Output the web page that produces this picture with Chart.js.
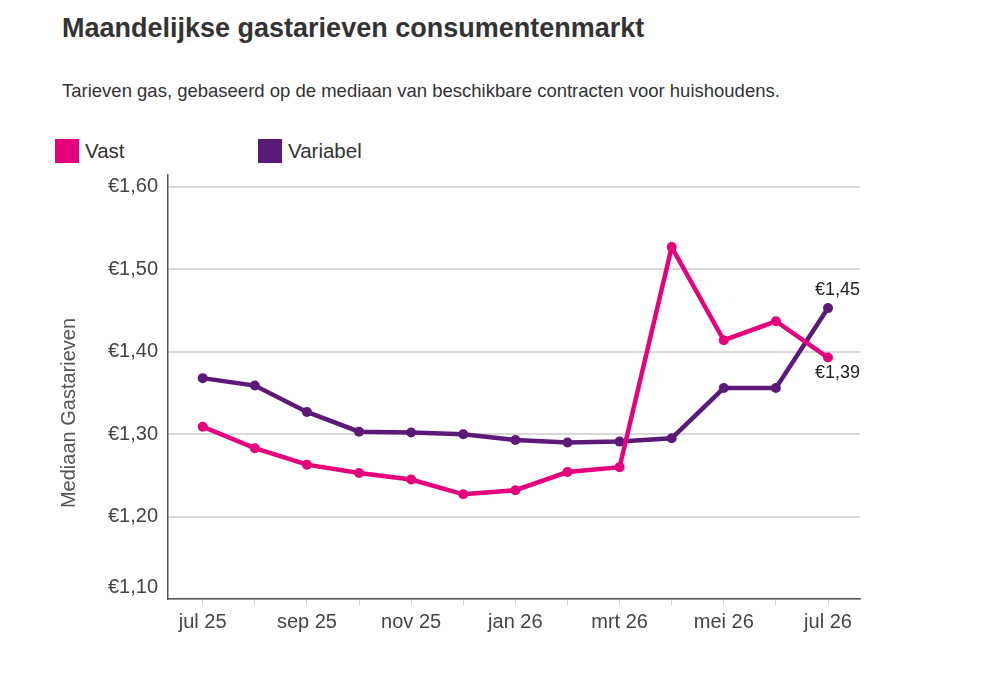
<!DOCTYPE html>
<html lang="nl">
<head>
<meta charset="utf-8">
<script src="https://cdn.jsdelivr.net/npm/chart.js@4.4.1/dist/chart.umd.min.js"></script>
<style>
  body { margin: 0; background: #fff; font-family: "Liberation Sans", Arial, sans-serif; color: #333; }
  .page { position: relative; width: 1000px; height: 693px; overflow: hidden; }
  h1 { position: absolute; left: 62px; top: 13px; margin: 0; font-size: 27px; font-weight: bold; color: #333; }
  .sub { position: absolute; left: 62px; top: 80px; margin: 0; font-size: 18.5px; color: #333; }
  .legend { position: absolute; left: 55px; top: 139px; display: flex; }
  .legend-item { display: flex; align-items: center; width: 203px; font-size: 20.5px; color: #333; }
  .legend-item span.box { display: inline-block; width: 24px; height: 24px; margin-right: 6px; }
  .chart-wrap { position: absolute; left: 0; top: 153px; width: 1000px; height: 540px; }
</style>
</head>
<body>
<div class="page">
  <h1>Maandelijkse gastarieven consumentenmarkt</h1>
  <p class="sub">Tarieven gas, gebaseerd op de mediaan van beschikbare contracten voor huishoudens.</p>
  <div class="legend" id="legend"></div>
  <div class="chart-wrap">
    <canvas id="gasChart" width="1000" height="540"></canvas>
  </div>
</div>
<script>
// maanden jul 25 t/m jul 26
const maanden = ['jul 25', 'aug 25', 'sep 25', 'okt 25', 'nov 25', 'dec 25', 'jan 26',
                 'feb 26', 'mrt 26', 'apr 26', 'mei 26', 'jun 26', 'jul 26'];

const vast = [1.309, 1.283, 1.263, 1.253, 1.245, 1.227, 1.232,
              1.254, 1.260, 1.527, 1.414, 1.437, 1.393];

const variabel = [1.368, 1.359, 1.327, 1.303, 1.302, 1.300, 1.293,
                  1.290, 1.291, 1.295, 1.356, 1.356, 1.453];

const yTicks = [1.10, 1.20, 1.30, 1.40, 1.50, 1.60];

const KLEUR_VAST = '#e5007d';
const KLEUR_VARIABEL = '#5c1a78';
const FONT = '"Liberation Sans", Arial, sans-serif';

const euro = v => '€' + v.toFixed(2).replace('.', ',');
const toPoints = arr => arr.map((v, i) => ({ x: i, y: v }));

// legenda in html
const legendEl = document.getElementById('legend');
[['Vast', KLEUR_VAST], ['Variabel', KLEUR_VARIABEL]].forEach(([naam, kleur]) => {
  const item = document.createElement('div');
  item.className = 'legend-item';
  item.innerHTML = '<span class="box" style="background:' + kleur + '"></span>' + naam;
  legendEl.appendChild(item);
});

// label bij het laatste punt, onderste y-label iets omhoog en de astitel
const extraTekst = {
  id: 'extraTekst',
  afterDraw(chart) {
    const ctx = chart.ctx;
    const yScale = chart.scales.y;
    ctx.save();

    // onderste ticklabel staat in het origineel boven de x-as
    ctx.font = '20px ' + FONT;
    ctx.fillStyle = '#444';
    ctx.textAlign = 'right';
    ctx.textBaseline = 'middle';
    ctx.fillText(euro(yTicks[0]), yScale.right - 10, yScale.getPixelForValue(yTicks[0]) - 12);

    // astitel
    ctx.save();
    ctx.translate(69, chart.chartArea.top + 238);
    ctx.rotate(-Math.PI / 2);
    ctx.textAlign = 'center';
    ctx.font = '20px ' + FONT;
    ctx.fillStyle = '#555';
    ctx.fillText('Mediaan Gastarieven', 0, 0);
    ctx.restore();

    // eindwaarden
    ctx.font = '18px ' + FONT;
    ctx.fillStyle = '#222';
    ctx.textAlign = 'right';
    chart.data.datasets.forEach((ds, i) => {
      const meta = chart.getDatasetMeta(i);
      const last = meta.data[meta.data.length - 1];
      const v = ds.data[ds.data.length - 1].y;
      if (ds.labelBoven) {
        ctx.textBaseline = 'bottom';
        ctx.fillText(euro(v), chart.chartArea.right, last.y - 9);
      } else {
        ctx.textBaseline = 'top';
        ctx.fillText(euro(v), chart.chartArea.right, last.y + 6);
      }
    });
    ctx.restore();
  }
};

const config = {
  type: 'line',
  data: {
    datasets: [
      {
        label: 'Vast',
        data: toPoints(vast),
        borderColor: KLEUR_VAST,
        backgroundColor: KLEUR_VAST,
        borderWidth: 4.5,
        pointRadius: 5,
        pointBorderWidth: 0,
        tension: 0,
        labelBoven: false
      },
      {
        label: 'Variabel',
        data: toPoints(variabel),
        borderColor: KLEUR_VARIABEL,
        backgroundColor: KLEUR_VARIABEL,
        borderWidth: 4.5,
        pointRadius: 5,
        pointBorderWidth: 0,
        tension: 0,
        labelBoven: true
      }
    ]
  },
  options: {
    responsive: false,
    animation: false,
    layout: { padding: { left: 58, right: 140, top: 6, bottom: 34 } },
    plugins: {
      legend: { display: false },
      tooltip: { enabled: false }
    },
    scales: {
      x: {
        type: 'linear',
        min: -0.666,
        max: 12.614,
        afterBuildTicks: scale => {
          scale.ticks = maanden.map((m, i) => ({ value: i }));
        },
        afterFit: scale => { scale.height = 60; },
        grid: {
          drawOnChartArea: false,
          drawTicks: true,
          tickLength: 6,
          color: '#d0d0d0'
        },
        border: { display: true, color: '#555', width: 1.5 },
        ticks: {
          autoSkip: false,
          maxRotation: 0,
          padding: 5,
          color: '#444',
          font: { size: 20, family: FONT },
          callback: value => (value % 2 === 0 ? maanden[value] : '')
        }
      },
      y: {
        min: 1.10,
        max: 1.6145,
        afterBuildTicks: scale => {
          scale.ticks = yTicks.map(v => ({ value: v }));
        },
        afterFit: scale => { scale.width = 110; },
        grid: {
          color: '#d9d9d9',
          lineWidth: 2,
          drawTicks: false
        },
        border: { display: true, color: '#555', width: 1.5 },
        ticks: {
          padding: 10,
          color: '#444',
          font: { size: 20, family: FONT },
          callback: value => (value === yTicks[0] ? '' : euro(value))
        }
      }
    }
  },
  plugins: [extraTekst]
};

new Chart(document.getElementById('gasChart'), config);
</script>
</body>
</html>
